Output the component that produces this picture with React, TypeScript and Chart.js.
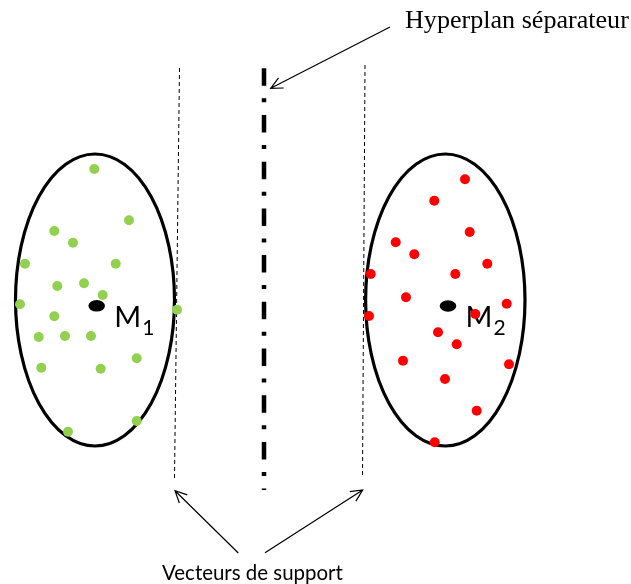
import React, { useEffect, useRef } from "react";
import { Chart, registerables } from "chart.js";

Chart.register(...registerables);

// ---- data (diagram coordinates: x 0..631, y 0..584 top-down) ----
const greenX = [94.3, 129, 54.3, 73, 25, 115.7, 57.3, 84, 102.7, 20, 177, 54.3, 38.7, 65, 91, 136.7, 41.3, 100.7, 136.7, 68];
const greenY = [169, 220.3, 231, 242.7, 263.7, 263.7, 286, 283.3, 295, 304.3, 309.7, 316.3, 337, 336, 336, 358.3, 367.7, 368.7, 421, 431.7];
const redX = [465, 434.3, 469.7, 395.7, 414.3, 487.3, 370.7, 455.3, 406, 506.7, 369, 475.3, 438, 456.7, 403, 509, 445, 476.7, 434.7];
const redY = [179.3, 200.7, 232, 242.3, 254.3, 263.7, 274, 274, 297.3, 303.7, 316, 314, 332.3, 344.3, 360.7, 364.3, 379, 410.7, 442.3];

// class ellipses: centre and radii
const ellipseCX = [95, 445.3];
const ellipseCY = [300, 300];
const ellipseRX = [79.5, 79.7];
const ellipseRY = [146, 146];

// class means M1, M2
const meanX = [96.7, 448];
const meanY = [305.8, 306];
const meanLabels = ["M", "M"];
const meanSubs = ["1", "2"];

// separating hyperplan and support lines
const hyperX = [264, 264];
const hyperY = [68.3, 490];
const supportLeftX = [179.5, 174.5];
const supportLeftY = [68, 478];
const supportRightX = [365, 362.5];
const supportRightY = [65, 478];

// arrows
const arrowFromX = [390, 238.3, 265];
const arrowFromY = [27, 553, 552.7];
const arrowToX = [270.7, 175, 362.7];
const arrowToY = [88.3, 490.7, 490];

// text labels
const titleTop = "Hyperplan séparateur";
const titleBottom = "Vecteurs de support";

const toPts = (xs: number[], ys: number[]) => xs.map((x, i) => ({ x, y: ys[i] }));

const overlayBehind = {
  id: "overlayBehind",
  beforeDatasetsDraw(chart: any) {
    const { ctx, scales } = chart;
    const sx = scales.x;
    const sy = scales.y;
    ctx.save();
    // ellipses
    ctx.strokeStyle = "#000";
    ctx.lineWidth = 3.2;
    for (let i = 0; i < ellipseCX.length; i++) {
      const cx = sx.getPixelForValue(ellipseCX[i]);
      const cy = sy.getPixelForValue(ellipseCY[i]);
      const rx = Math.abs(sx.getPixelForValue(ellipseCX[i] + ellipseRX[i]) - cx);
      const ry = Math.abs(sy.getPixelForValue(ellipseCY[i] + ellipseRY[i]) - cy);
      ctx.beginPath();
      ctx.ellipse(cx, cy, rx, ry, 0, 0, Math.PI * 2);
      ctx.stroke();
    }
    // means
    ctx.fillStyle = "#000";
    for (let i = 0; i < meanX.length; i++) {
      const cx = sx.getPixelForValue(meanX[i]);
      const cy = sy.getPixelForValue(meanY[i]);
      ctx.beginPath();
      ctx.ellipse(cx, cy, 8.3, 5.8, 0, 0, Math.PI * 2);
      ctx.fill();
      ctx.textBaseline = "alphabetic";
      ctx.textAlign = "left";
      ctx.font = "29px Lato";
      const mx = cx + 17.5;
      const my = cy + 21;
      ctx.fillText(meanLabels[i], mx, my);
      const w = ctx.measureText(meanLabels[i]).width;
      ctx.font = "21px Lato";
      ctx.fillText(meanSubs[i], mx + w + 1, my + 8);
    }
    // arrows
    ctx.lineWidth = 1.2;
    ctx.strokeStyle = "#000";
    for (let i = 0; i < arrowFromX.length; i++) {
      const x1 = sx.getPixelForValue(arrowFromX[i]);
      const y1 = sy.getPixelForValue(arrowFromY[i]);
      const x2 = sx.getPixelForValue(arrowToX[i]);
      const y2 = sy.getPixelForValue(arrowToY[i]);
      const a = Math.atan2(y2 - y1, x2 - x1);
      const L = 13;
      const s = 0.45;
      ctx.beginPath();
      ctx.moveTo(x1, y1);
      ctx.lineTo(x2, y2);
      ctx.moveTo(x2 - L * Math.cos(a - s), y2 - L * Math.sin(a - s));
      ctx.lineTo(x2, y2);
      ctx.lineTo(x2 - L * Math.cos(a + s), y2 - L * Math.sin(a + s));
      ctx.stroke();
    }
    // texts
    const fit = (text: string, family: string, x: number, base: number, width: number) => {
      ctx.font = `100px ${family}`;
      const w100 = ctx.measureText(text).width;
      const size = (100 * width) / w100;
      ctx.font = `${size}px ${family}`;
      ctx.fillText(text, x, base);
    };
    ctx.fillStyle = "#000";
    fit(titleTop, '"Liberation Serif"', 405, 27.5, 224);
    fit(titleBottom, "Lato", 162, 580, 181);
    ctx.restore();
  },
};

export default function App() {
  const ref = useRef<HTMLCanvasElement | null>(null);
  useEffect(() => {
    document.body.style.margin = "0";
    const canvas = ref.current!;
    const chart = new Chart(canvas, {
      type: "scatter",
      data: {
        datasets: [
          {
            label: "Classe 1",
            data: toPts(greenX, greenY),
            backgroundColor: "#92D050",
            borderWidth: 0,
            pointRadius: 5,
            clip: false,
          },
          {
            label: "Classe 2",
            data: toPts(redX, redY),
            backgroundColor: "#FF0000",
            borderWidth: 0,
            pointRadius: 5,
            clip: false,
          },
          {
            label: "Hyperplan",
            data: toPts(hyperX, hyperY),
            showLine: true,
            borderColor: "#000",
            borderWidth: 4.5,
            borderDash: [17.5, 12.5, 4, 12.7],
            borderCapStyle: "butt",
            pointRadius: 0,
            clip: false,
          } as any,
          {
            label: "Support 1",
            data: toPts(supportLeftX, supportLeftY),
            showLine: true,
            borderColor: "#000",
            borderWidth: 1,
            borderDash: [4, 3],
            pointRadius: 0,
            clip: false,
          } as any,
          {
            label: "Support 2",
            data: toPts(supportRightX, supportRightY),
            showLine: true,
            borderColor: "#000",
            borderWidth: 1,
            borderDash: [4, 3],
            pointRadius: 0,
            clip: false,
          } as any,
        ],
      },
      options: {
        animation: false,
        responsive: false,
        layout: { padding: 0, autoPadding: false },
        plugins: { legend: { display: false }, tooltip: { enabled: false } },
        scales: {
          x: { type: "linear", min: 0, max: 631, display: false },
          y: { type: "linear", min: 0, max: 584, reverse: true, display: false },
        },
      },
      plugins: [overlayBehind],
    });
    return () => chart.destroy();
  }, []);
  return <canvas ref={ref} width={631} height={584} style={{ display: "block" }} />;
}
